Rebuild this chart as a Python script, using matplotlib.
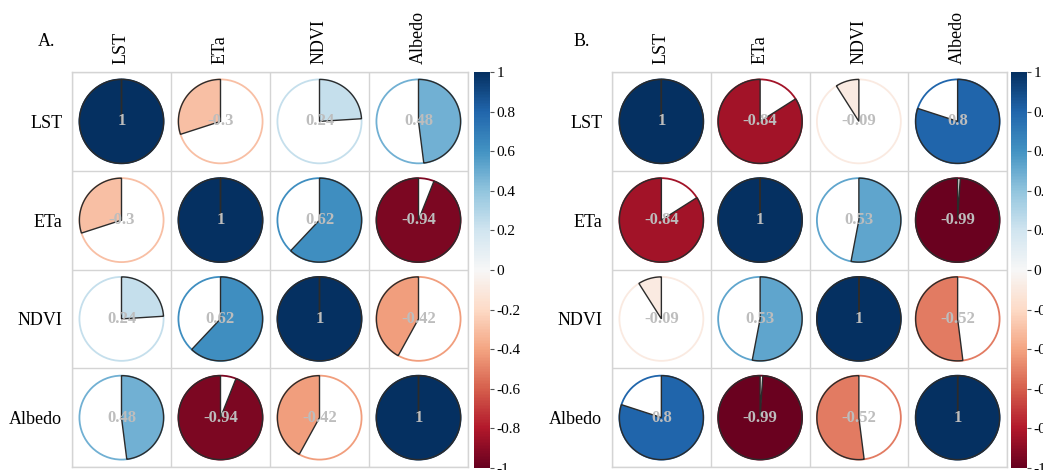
import numpy as np
import matplotlib
matplotlib.use("Agg")
import matplotlib.pyplot as plt
from matplotlib.patches import Polygon, Circle, Rectangle
from matplotlib.colors import Normalize
from matplotlib.cm import ScalarMappable

plt.rcParams['font.family'] = ['Liberation Serif', 'DejaVu Serif']

variables = ["LST", "ETa", "NDVI", "Albedo"]
corr_a = [
    [1.00, -0.30, 0.24, 0.48],
    [-0.30, 1.00, 0.62, -0.94],
    [0.24, 0.62, 1.00, -0.42],
    [0.48, -0.94, -0.42, 1.00],
]
corr_b = [
    [1.00, -0.84, -0.09, 0.80],
    [-0.84, 1.00, 0.53, -0.99],
    [-0.09, 0.53, 1.00, -0.52],
    [0.80, -0.99, -0.52, 1.00],
]
panel_labels = ["A.", "B."]
cbar_ticks = [1, 0.8, 0.6, 0.4, 0.2, 0, -0.2, -0.4, -0.6, -0.8, -1]

W, H = 1043, 470
fig = plt.figure(figsize=(W / 100, H / 100), dpi=100)
cmap = plt.get_cmap("RdBu")
norm = Normalize(-1, 1)
R = 0.425
grid_col = "#d4d4d4"


def fmt(v):
    s = f"{v:.2f}".rstrip("0").rstrip(".")
    return s


def draw_panel(mat, ax_rect, cax_rect, label, label_xy):
    ax = fig.add_axes(ax_rect)
    n = len(variables)
    ax.set_xlim(0, n)
    ax.set_ylim(n, 0)
    mat = np.array(mat)
    for i in range(n):
        for j in range(n):
            v = mat[i, j]
            cx, cy = j + 0.5, i + 0.5
            col = cmap(norm(v))
            ax.add_patch(Circle((cx, cy), R, facecolor="white", edgecolor=col, lw=1.3, zorder=2))
            ang = 360 * abs(v)
            if v >= 0:
                th = np.linspace(90, 90 - ang, 200)
            else:
                th = np.linspace(90, 90 + ang, 200)
            th = np.radians(th)
            xs = cx + R * np.cos(th)
            ys = cy - R * np.sin(th)
            pts = np.column_stack([np.r_[cx, xs], np.r_[cy, ys]])
            ax.add_patch(Polygon(pts, closed=True, facecolor=col, edgecolor="#2b2b2b", lw=1.0, zorder=3))
            ax.text(cx, cy, fmt(v), ha="center", va="center", color="#bdbdbd",
                    fontsize=12, fontweight="bold", zorder=4)
    for k in range(n + 1):
        ax.axhline(k, color=grid_col, lw=1.0, zorder=1)
        ax.axvline(k, color=grid_col, lw=1.0, zorder=1)
    for s in ax.spines.values():
        s.set_color(grid_col)
        s.set_linewidth(1.0)
    ax.set_xticks(np.arange(n) + 0.5)
    ax.set_yticks(np.arange(n) + 0.5)
    ax.xaxis.tick_top()
    ax.set_xticklabels(variables, rotation=90, fontsize=13)
    ax.set_yticklabels(variables, fontsize=13)
    ax.tick_params(axis="both", length=0)
    ax.tick_params(axis="x", pad=6)
    ax.tick_params(axis="y", pad=7)

    cax = fig.add_axes(cax_rect)
    sm = ScalarMappable(norm=norm, cmap=cmap)
    cb = fig.colorbar(sm, cax=cax, ticks=cbar_ticks)
    cb.outline.set_visible(False)
    cb.ax.set_yticklabels([fmt(t) for t in cbar_ticks], fontsize=11)
    cb.ax.tick_params(length=3, width=0.8, color="#555555", pad=1.5)

    fig.text(label_xy[0] / W, 1 - label_xy[1] / H, label, fontsize=13, va="baseline", ha="left")


draw_panel(corr_a, [72 / W, 3 / H, 396 / W, 395 / H], [474 / W, 2 / H, 16 / W, 396 / H],
           panel_labels[0], (38, 46))
draw_panel(corr_b, [612 / W, 3 / H, 395 / W, 395 / H], [1011 / W, 2 / H, 16 / W, 396 / H],
           panel_labels[1], (574, 46))

fig.savefig("out.png", dpi=100)
